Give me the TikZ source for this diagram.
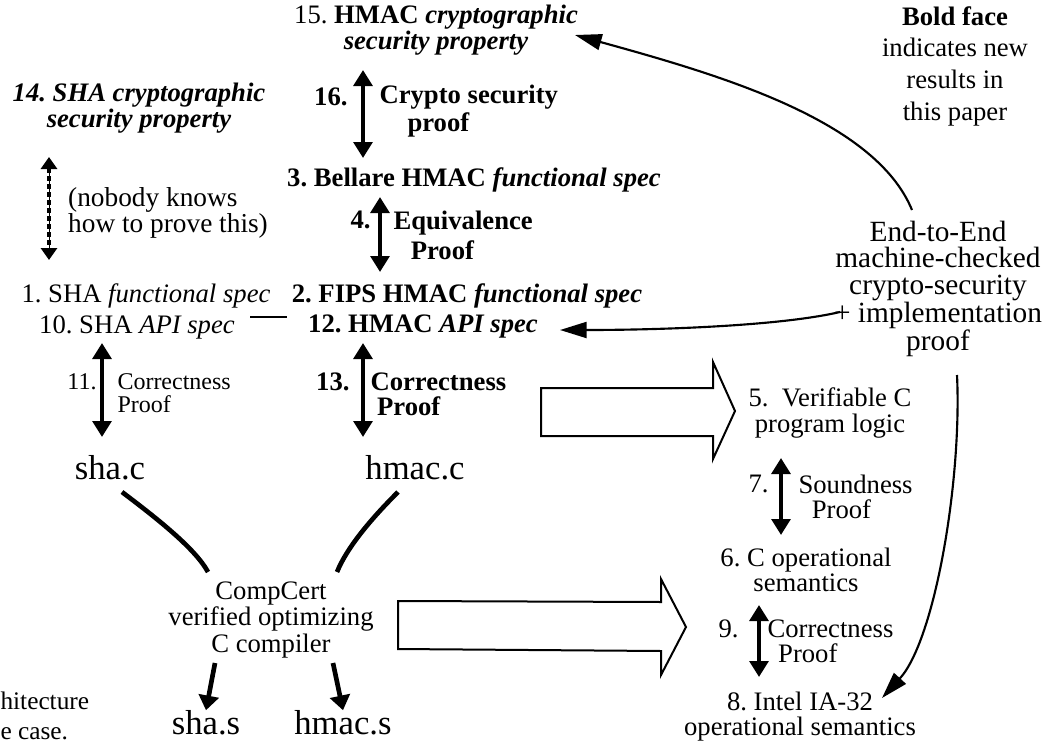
\documentclass[tikz,border=0pt]{standalone}
\usepackage{fontspec}
\setmainfont{Liberation Serif}
\usetikzlibrary{arrows.meta}
\frenchspacing

\tikzset{every picture/.style={line width=0.75pt}}
\tikzset{
  lbl/.style={inner sep=0pt, align=center, font=\fontsize{20}{19}\selectfont},
  lblL/.style={lbl, align=left},
  big/.style={inner sep=0pt, font=\fontsize{26}{26}\selectfont},
  dbl/.style={line width=3pt, {Triangle[length=12pt,width=14pt]}-{Triangle[length=12pt,width=14pt]}},
  dashdbl/.style={line width=3pt, dash pattern=on 3.5pt off 2.5pt, {Triangle[length=9pt,width=12pt]}-{Triangle[length=9pt,width=12pt]}},
  thinarr/.style={line width=1.6pt, -{Triangle[length=20pt,width=12pt]}},
  fat/.style={line width=3.5pt},
  fatarr/.style={line width=3.5pt, -{Triangle[length=11pt,width=15pt]}},
  hollow/.style={line width=1.5pt, line join=miter},
}

\begin{document}
\begin{tikzpicture}[x=0.75pt,y=0.75pt,yscale=-1,xscale=1]
\useasboundingbox (0,0) rectangle (1049,746);

% Text Node
\draw (436,30) node (n15) [lbl, font=\fontsize{20}{18}\selectfont] {15. \textbf{HMAC \textit{cryptographic}}\\\textbf{\textit{security property}}};
% Text Node
\draw (139,108) node (n14) [lbl, font=\fontsize{20}{17}\selectfont] {\textbf{\textit{14. SHA cryptographic}}\\\textbf{\textit{security property}}};
% Text Node
\draw (168,213) node (nobody) [lblL, font=\fontsize{20.5}{20}\selectfont] {(nobody knows\\how to prove this)};
% Text Node
\draw (348,97) node (l16n) [lbl, anchor=east] {\textbf{16.}};
\draw (379,111) node (l16) [lblL, anchor=west, font=\fontsize{20}{21}\selectfont] {\textbf{Crypto security}\\\hspace*{21pt}\textbf{proof}};
% Text Node
\draw (474,180) node (n3) [lbl] {\textbf{3. Bellare HMAC \textit{functional spec}}};
% Text Node
\draw (371,220) node (l4n) [lbl, anchor=east] {\textbf{4.}};
\draw (393,235) node (l4) [lblL, anchor=west, font=\fontsize{20}{22.5}\selectfont] {\textbf{Equivalence}\\\hspace*{13pt}\textbf{Proof}};
% Text Node
\draw (467,296) node (n2) [lbl] {\textbf{2. FIPS HMAC \textit{functional spec}}};
\draw (423,327) node (n12) [lbl] {\textbf{12. HMAC \textit{API spec}}};
% Text Node
\draw (146,296) node (n1) [lbl] {1. SHA \textit{functional spec}};
\draw (137,327) node (n10) [lbl] {10. SHA \textit{API spec}};
% Text Node
\draw (97,382) node (l11n) [lbl, anchor=east, font=\fontsize{18}{17}\selectfont] {11.};
\draw (117,393) node (l11) [lblL, anchor=west, font=\fontsize{18}{17.25}\selectfont] {Correctness\\Proof};
% Text Node
\draw (350,382) node (l13n) [lbl, anchor=east] {\textbf{13.}};
\draw (370,394) node (l13) [lblL, anchor=west, font=\fontsize{20}{18.75}\selectfont] {\textbf{Correctness}\\\hspace*{5pt}\textbf{Proof}};
% Text Node
\draw (110,468) node (shac) [big] {sha.c};
\draw (415,468) node (hmacc) [big] {hmac.c};
% Text Node
\draw (271,620) node (cc) [lbl, font=\fontsize{20}{20}\selectfont] {CompCert\\verified optimizing\\C compiler};
% Text Node
\draw (206,723) node (shas) [big] {sha.s};
\draw (343,723) node (hmacs) [big] {hmac.s};
% Text Node
\draw (830,413) node (n5) [lbl, font=\fontsize{20}{20}\selectfont] {5.\ \ Verifiable C\\program logic};
% Text Node
\draw (769,484) node (l7n) [lbl, anchor=east] {7.};
\draw (798,497) node (l7) [lblL, anchor=west, font=\fontsize{20}{19}\selectfont] {Soundness\\\hspace*{10pt}Proof};
% Text Node
\draw (806,570) node (n6) [lbl, font=\fontsize{20}{19}\selectfont] {6. C operational\\semantics};
% Text Node
\draw (739,629) node (l9n) [lbl, anchor=east] {9.};
\draw (767,641) node (l9) [lblL, anchor=west, font=\fontsize{20}{18.5}\selectfont] {Correctness\\\hspace*{8pt}Proof};
% Text Node
\draw (800,717) node (n8) [lbl, font=\fontsize{20}{18.75}\selectfont] {8. Intel IA-32\\operational semantics};
% Text Node
\draw (938,289) node (ete) [lbl, font=\fontsize{22}{20}\selectfont] {End-to-End\\machine-checked\\crypto-security\\+ implementation\\proof};
% Text Node
\draw (955,66) node (note) [lbl, font=\fontsize{20}{23.75}\selectfont] {\textbf{Bold face}\\indicates new\\results in\\this paper};
% Text Node
\draw (0,716) node (cut) [lblL, anchor=west, font=\fontsize{19}{22.5}\selectfont] {hitecture\\e case.};

% end points of the connectors
\coordinate (a16t) at (363,70);  \coordinate (a16b) at (363,158);
\coordinate (a4t) at (380,197);  \coordinate (a4b) at (380,272);
\coordinate (a14t) at (49,157);  \coordinate (a14b) at (49,260);
\coordinate (a11t) at (102,343); \coordinate (a11b) at (102,437);
\coordinate (a13t) at (363,343); \coordinate (a13b) at (363,437);
\coordinate (a7t) at (781,458);  \coordinate (a7b) at (781,535);
\coordinate (a9t) at (759,605);  \coordinate (a9b) at (759,677);
\coordinate (linkl) at (250,317); \coordinate (linkr) at (287,317);
\coordinate (shaout) at (122,492); \coordinate (shain) at (208,572);
\coordinate (hmacout) at (398,492); \coordinate (hmacin) at (337,572);
\coordinate (ccl) at (215,663); \coordinate (ccr) at (333,663);
\coordinate (ete15) at (912,210); \coordinate (tip15) at (575,35);
\coordinate (ete12) at (840,312); \coordinate (tip12) at (560,330);
\coordinate (ete8) at (957,375);  \coordinate (tip8) at (882,698);

%Straight Lines
\draw [dbl] (a16t) -- (a16b);
\draw [dbl] (a4t) -- (a4b);
\draw [dbl] (a11t) -- (a11b);
\draw [dbl] (a13t) -- (a13b);
\draw [dbl] (a7t) -- (a7b);
\draw [dbl] (a9t) -- (a9b);
\draw [dashdbl] (a14t) -- (a14b);
\draw [line width=0.6pt, shorten <=6pt, shorten >=6pt] (a14t) -- (a14b);
\draw [line width=1.5pt] (linkl) -- (linkr);

%Curve Lines
\draw [fat] (shaout) .. controls (155,517) and (195,548) .. (shain);
\draw [fat] (hmacout) .. controls (375,515) and (348,545) .. (hmacin);
\draw [fatarr] (ccl) -- (shas.north);
\draw [fatarr] (ccr) -- (hmacs.north);

\draw [thinarr] (ete15) .. controls (875,120) and (720,75) .. (tip15);
\draw [thinarr] (ete12) .. controls (780,326) and (660,330) .. (tip12);
\draw [thinarr] (ete8) .. controls (962,480) and (935,640) .. (tip8);

%Shape: Block Arrow
\draw [hollow] (541,388) -- (713,388) -- (713,362) -- (735,411) -- (713,459) -- (713,436) -- (541,436) -- cycle;
%Shape: Block Arrow
\draw [hollow] (398,601) -- (661,602) -- (661,579) -- (686,627) -- (661,675) -- (661,651) -- (398,649) -- cycle;
\end{tikzpicture}
\end{document}
